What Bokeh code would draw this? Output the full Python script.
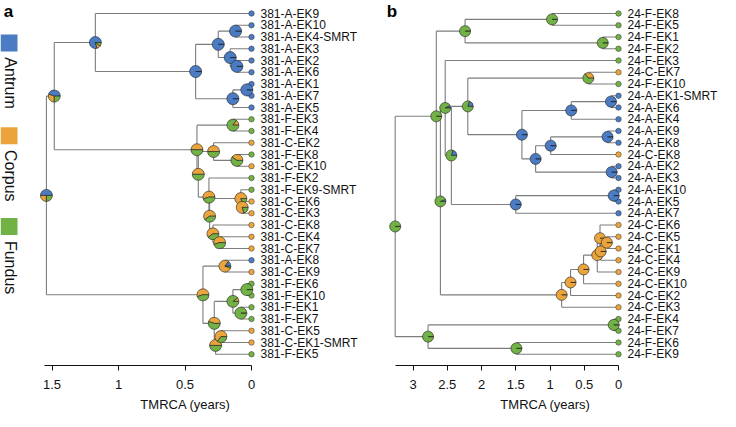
import math
from bokeh.plotting import figure
from bokeh.layouts import row
from bokeh.models import Range1d, FixedTicker, ColumnDataSource
from bokeh.core.properties import value
from bokeh.embed import file_html
from bokeh.resources import INLINE

# ---------------- data ----------------
tissues = ["Antrum", "Corpus", "Fundus"]
tissue_codes = ["A", "C", "F"]
tissue_colors = ["#4A7BC3", "#EBA43C", "#72B146"]

# panel a: patient 381
leaves_a = ["381-A-EK9", "381-A-EK10", "381-A-EK4-SMRT", "381-A-EK3", "381-A-EK2", "381-A-EK6",
            "381-A-EK1", "381-A-EK7", "381-A-EK5", "381-F-EK3", "381-F-EK4", "381-C-EK2",
            "381-F-EK8", "381-C-EK10", "381-F-EK2", "381-F-EK9-SMRT", "381-C-EK6", "381-C-EK3",
            "381-C-EK8", "381-C-EK4", "381-C-EK7", "381-A-EK8", "381-C-EK9", "381-F-EK6",
            "381-F-EK10", "381-F-EK1", "381-F-EK7", "381-C-EK5", "381-C-EK1-SMRT", "381-F-EK5"]
leaf_parent_a = ["n2", "n5", "n5", "n6", "n7", "n7", "n9", "n9", "n8", "g1", "g1", "y", "y2", "y2",
                 "z", "v1", "v2", "v2", "u1", "u2", "u2", "r2a", "r2a", "s2", "s2", "s3", "s3",
                 "t2", "t2", "t1"]
nodes_a = ["r", "n1", "n2", "n3", "n4", "n5", "n6", "n7", "n8", "n9", "x1", "g1", "x2", "y", "y2",
           "z", "w", "v1", "v2", "u1", "u2", "r2", "r2a", "r2b", "s1", "s2", "s3", "t1", "t2"]
node_parent_a = [None, "r", "n1", "n2", "n3", "n4", "n4", "n6", "n3", "n8", "n1", "x1", "x1", "x2",
                 "y", "x2", "z", "w", "v1", "w", "u1", "r", "r2", "r2", "r2b", "s1", "s1", "r2b", "t1"]
node_tmrca_a = [1.542, 1.483, 1.174, 0.42, 0.25, 0.12, 0.16, 0.11, 0.14, 0.035, 0.41, 0.14, 0.40,
                0.285, 0.11, 0.32, 0.315, 0.08, 0.07, 0.29, 0.24, 0.365, 0.20, 0.28, 0.14, 0.035,
                0.08, 0.27, 0.23]
antrum_a = [0.5, 0.45, 0.8, 1, 1, 1, 1, 1, 1, 1, 0, 0, 0, 0, 0, 0, 0, 0, 0, 0, 0,
            0, 0.15, 0, 0, 0, 0, 0, 0]
corpus_a = [0.25, 0.3, 0.1, 0, 0, 0, 0, 0, 0, 0, 0.5, 0.15, 0.5, 0.5, 0.4, 0.55, 0.6, 0.8, 0.8,
            0.6, 0.55, 0.55, 0.8, 0.45, 0.1, 0, 0, 0.5, 0.65]
fundus_a = [0.25, 0.25, 0.1, 0, 0, 0, 0, 0, 0, 0, 0.5, 0.85, 0.5, 0.5, 0.6, 0.45, 0.4, 0.2, 0.2,
            0.4, 0.45, 0.45, 0.05, 0.55, 0.9, 1, 1, 0.5, 0.35]

# panel b: patient 24
leaves_b = ["24-F-EK8", "24-F-EK5", "24-F-EK1", "24-F-EK2", "24-F-EK3", "24-C-EK7", "24-F-EK10",
            "24-A-EK1-SMRT", "24-A-EK6", "24-A-EK4", "24-A-EK9", "24-A-EK8", "24-C-EK8",
            "24-A-EK2", "24-A-EK3", "24-A-EK10", "24-A-EK5", "24-A-EK7", "24-C-EK6", "24-C-EK5",
            "24-C-EK1", "24-C-EK4", "24-C-EK9", "24-C-EK10", "24-C-EK2", "24-C-EK3", "24-F-EK4",
            "24-F-EK7", "24-F-EK6", "24-F-EK9"]
leaf_parent_b = ["b1", "b1", "b2", "b2", "b6", "c7", "c7", "m3", "m3", "m2", "m6", "m6", "m5",
                 "m7", "m7", "k2", "k2", "k1", "o5", "o6", "o6", "o7", "o4", "o3", "o2", "o1",
                 "q1", "q1", "q2", "q2"]
nodes_b = ["r", "b4", "b3", "b1", "b2", "b5", "b6", "b8", "b7", "c7", "m1", "m2", "m3", "m4", "m5",
           "m6", "m7", "k1", "k2", "o1", "o2", "o3", "o4", "o5", "o7", "o6", "q", "q1", "q2"]
node_parent_b = [None, "r", "b4", "b3", "b3", "b4", "b5", "b6", "b8", "b7", "b7", "m1", "m2", "m1",
                 "m4", "m5", "m4", "b8", "k1", "b5", "o1", "o2", "o3", "o4", "o5", "o7", "r", "q", "q"]
node_tmrca_b = [3.26, 2.66, 2.24, 0.97, 0.23, 2.60, 2.53, 2.44, 2.20, 0.44, 1.41, 0.69, 0.11, 1.21,
                0.99, 0.16, 0.10, 1.50, 0.07, 0.83, 0.70, 0.51, 0.31, 0.27, 0.26, 0.17, 2.78, 0.07,
                1.49]
antrum_b = [0, 0, 0, 0, 0, 0.06, 0.08, 0.2, 0.2, 0, 1, 1, 1, 1, 1, 1, 1, 1, 1,
            0, 0, 0, 0, 0, 0, 0, 0, 0, 0]
corpus_b = [0, 0, 0, 0, 0, 0, 0, 0, 0, 0.35, 0, 0, 0, 0, 0, 0, 0, 0, 0,
            1, 1, 1, 1, 1, 1, 1, 0, 0, 0]
fundus_b = [1, 1, 1, 1, 1, 0.94, 0.92, 0.8, 0.8, 0.65, 0, 0, 0, 0, 0, 0, 0, 0, 0,
            0, 0, 0, 0, 0, 0, 0, 1, 1, 1]

ticks_a = [0, 0.5, 1, 1.5]
tick_labels_a = ["0", "0.5", "1", "1.5"]
ticks_b = [0, 0.5, 1, 1.5, 2, 2.5, 3]
tick_labels_b = ["0", "0.5", "1", "1.5", "2", "2.5", "3"]
axis_title = "TMRCA (years)"

# ---------------- layout constants ----------------
FONT = "Liberation Sans"
FRAME_H = 365
ROW0, ROWSTEP = 13.0, 11.75
LINE_COL = "#7d7d7d"


def yrange():
    return Range1d((FRAME_H - ROW0) / ROWSTEP, -ROW0 / ROWSTEP)


def row_at(py):
    return (py - ROW0) / ROWSTEP


def build_tree(p, leaves, leaf_parent, nodes, parent, age, fa, fc, ff, node_r):
    ys = {n: float(i) for i, n in enumerate(leaves)}
    ts = {n: 0.0 for n in leaves}
    par = dict(zip(leaves, leaf_parent))
    for n, pp in zip(nodes, parent):
        if pp is not None:
            par[n] = pp
    for n, t in zip(nodes, age):
        ts[n] = t
    kids = {n: [] for n in nodes}
    for c, pp in par.items():
        kids[pp].append(c)

    def gety(n):
        if n not in ys:
            ys[n] = sum(gety(k) for k in kids[n]) / len(kids[n])
        return ys[n]

    for n in nodes:
        gety(n)

    x0, y0, x1, y1 = [], [], [], []
    for c, pp in par.items():
        x0.append(ts[pp]); y0.append(ys[c]); x1.append(ts[c]); y1.append(ys[c])
    for n in nodes:
        cy = [ys[k] for k in kids[n]]
        x0.append(ts[n]); x1.append(ts[n]); y0.append(min(cy)); y1.append(max(cy))
    p.segment(x0=x0, y0=y0, x1=x1, y1=y1, line_color=LINE_COL, line_width=1.1)

    # leaves
    leaf_cols = [tissue_colors[tissue_codes.index(n.split("-")[1])] for n in leaves]
    p.scatter(x=[0.0] * len(leaves), y=[ys[n] for n in leaves], size=5.5,
              fill_color=leaf_cols, line_color="#333333", line_width=0.5)
    p.text(x=[0.0] * len(leaves), y=[ys[n] for n in leaves], text=leaves, x_offset=9,
           text_baseline="middle", text_align="left", text_font=value(FONT),
           text_font_size="12px", text_color="#111111")

    # pies
    wx, wy, ws, we, wc = [], [], [], [], []
    for i, n in enumerate(nodes):
        fr = [fa[i], fc[i], ff[i]]
        tot = sum(fr)
        start = 0.0
        for k, f in enumerate(fr):
            if f <= 0:
                continue
            ang = 2 * math.pi * f / tot
            end = min(start + ang, 2 * math.pi - 1e-4)
            wx.append(ts[n]); wy.append(ys[n]); ws.append(start); we.append(end)
            wc.append(tissue_colors[k])
            start += ang
    src = ColumnDataSource(dict(x=wx, y=wy, s=ws, e=we, c=wc))
    p.wedge(x="x", y="y", radius=node_r, radius_units="screen", start_angle="s",
            end_angle="e", fill_color="c", line_color="#1e1e1e", line_width=0.6, source=src)


def style_axis(p, ticks, labels, bound):
    ax = p.xaxis[0]
    ax.ticker = FixedTicker(ticks=ticks)
    ax.major_label_overrides = {t: l for t, l in zip(ticks, labels)}
    ax.bounds = (0, bound)
    ax.axis_label = axis_title
    ax.axis_line_color = "#111111"
    ax.major_tick_line_color = "#111111"
    ax.major_tick_out = 5
    ax.major_tick_in = 0
    ax.minor_tick_line_color = None
    ax.major_label_standoff = 9
    ax.axis_label_standoff = 5
    ax.major_label_text_font = FONT
    ax.major_label_text_font_size = "13px"
    ax.major_label_text_color = "#111111"
    ax.axis_label_text_font = FONT
    ax.axis_label_text_font_size = "13px"
    ax.axis_label_text_font_style = "normal"
    ax.axis_label_text_color = "#111111"


def make_fig(fw, x0px, scale):
    xr = Range1d(x0px / scale, (x0px - fw) / scale)
    p = figure(frame_width=fw, frame_height=FRAME_H, x_range=xr, y_range=yrange(),
               output_backend="svg", toolbar_location=None, y_axis_location=None,
               min_border=0, outline_line_color=None)
    p.xgrid.visible = False
    p.ygrid.visible = False
    p.background_fill_color = "white"
    return p


# ---------------- panel a ----------------
A_W, A_T0, A_SC = 370, 251.0, 133.0
pa = make_fig(A_W, A_T0, A_SC)
build_tree(pa, leaves_a, leaf_parent_a, nodes_a, node_parent_a, node_tmrca_a,
           antrum_a, corpus_a, fundus_a, 6)
style_axis(pa, ticks_a, tick_labels_a, 1.557)


def ta(px):
    return (A_T0 - px) / A_SC


# legend (vertical, rotated text)
sq_py = [42.5, 135.3, 226.1]
tx_py = [82.5, 175.3, 267.1]
pa.scatter(x=[ta(8.5)] * 3, y=[row_at(v) for v in sq_py], marker="square", size=17,
           fill_color=tissue_colors, line_color=None)
pa.text(x=[ta(9.8)] * 3, y=[row_at(v) for v in tx_py], text=tissues, angle=-math.pi / 2,
        text_align="center", text_baseline="middle", text_font=value(FONT),
        text_font_size="16px", text_color="#111111")
pa.text(x=[ta(3.2)], y=[row_at(10.8)], text=["a"], text_font=value(FONT),
        text_font_style="bold", text_font_size="17px", text_baseline="alphabetic",
        text_align="left", text_color="#000000")

# ---------------- panel b ----------------
B_W, B_T0, B_SC = 350, 248.0, 68.5
pb = make_fig(B_W, B_T0, B_SC)
build_tree(pb, leaves_b, leaf_parent_b, nodes_b, node_parent_b, node_tmrca_b,
           antrum_b, corpus_b, fundus_b, 5.5)
style_axis(pb, ticks_b, tick_labels_b, 3.257)
pb.text(x=[(B_T0 - 16.3) / B_SC], y=[row_at(10.8)], text=["b"], text_font=value(FONT),
        text_font_style="bold", text_font_size="17px", text_baseline="alphabetic",
        text_align="left", text_color="#000000")

layout = row(pa, pb)
open("out.html", "w").write(file_html(layout, INLINE))
